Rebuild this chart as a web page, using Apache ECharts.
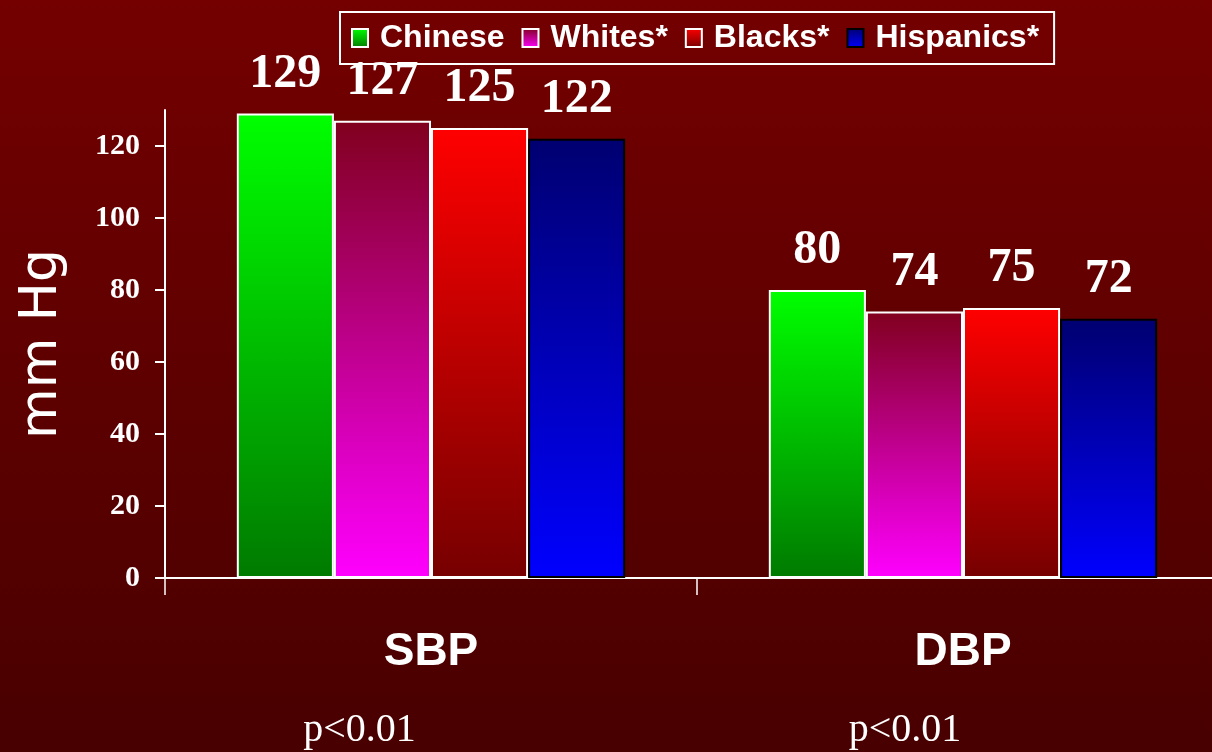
<!DOCTYPE html>
<html>
<head>
<meta charset="utf-8">
<script src="https://cdn.jsdelivr.net/npm/echarts@6/dist/echarts.min.js"></script>
<style>
html,body{margin:0;padding:0;background:#5e0000;}
#chart{width:1212px;height:752px;}
</style>
</head>
<body>
<div id="chart"></div>
<script>
const categories = ['SBP', 'DBP'];
const pValues = ['p<0.01', 'p<0.01'];
const seriesNames = ['Chinese', 'Whites*', 'Blacks*', 'Hispanics*'];
const chineseValues = [129, 80];
const whitesValues = [127, 74];
const blacksValues = [125, 75];
const hispanicsValues = [122, 72];
const yTicks = [0, 20, 40, 60, 80, 100, 120];

const grad = (top, bottom) => new echarts.graphic.LinearGradient(0, 0, 0, 1, [
  { offset: 0, color: top }, { offset: 1, color: bottom }
]);

const styles = [
  { color: grad('#00ff00', '#007a00'), borderColor: '#ffffff' },
  { color: grad('#80001e', '#ff00ff'), borderColor: '#ffffff' },
  { color: grad('#ff0000', '#760000'), borderColor: '#ffffff' },
  { color: grad('#000070', '#0000ff'), borderColor: '#000000' }
];
const values = [chineseValues, whitesValues, blacksValues, hispanicsValues];

const chart = echarts.init(document.getElementById('chart'));
chart.setOption({
  animation: false,
  backgroundColor: grad('#740000', '#480000'),
  legend: {
    data: seriesNames,
    left: 340,
    top: 12,
    orient: 'horizontal',
    borderColor: '#ffffff',
    borderWidth: 2,
    padding: [10, 15, 10, 11],
    itemWidth: 16,
    itemHeight: 18,
    itemGap: 17,
    icon: 'rect',
    textStyle: {
      color: '#ffffff',
      fontFamily: 'Liberation Sans, Arial, sans-serif',
      fontWeight: 'bold',
      fontSize: 32,
      padding: [0, 0, 0, 7]
    }
  },
  grid: { left: 165, width: 1064, top: 110, bottom: 174, containLabel: false, outerBoundsMode: 'none' },
  xAxis: [
    {
      type: 'category',
      data: categories,
      boundaryGap: true,
      axisLine: { lineStyle: { color: '#ffffff', width: 2 } },
      axisTick: { show: true, length: 17, inside: false, lineStyle: { color: '#ffffff', width: 1.5 } },
      axisLabel: {
        color: '#ffffff',
        fontFamily: 'Liberation Sans, Arial, sans-serif',
        fontWeight: 'bold',
        fontSize: 46,
        margin: 51
      }
    },
    {
      type: 'category',
      data: pValues,
      position: 'bottom',
      axisLine: { show: false },
      axisTick: { show: false },
      axisLabel: {
        margin: 132,
        formatter: (v, i) => (i === 0 ? '{a|' + v + '}' : '{b|' + v + '}'),
        rich: {
          a: { color: '#ffffff', fontFamily: 'Liberation Serif, Times New Roman, serif', fontSize: 40, padding: [0, 143, 0, 0] },
          b: { color: '#ffffff', fontFamily: 'Liberation Serif, Times New Roman, serif', fontSize: 40, padding: [0, 116, 0, 0] }
        }
      }
    }
  ],
  yAxis: {
    type: 'value',
    min: 0,
    max: 130,
    name: 'mm Hg',
    nameLocation: 'middle',
    nameGap: 97,
    nameTextStyle: {
      color: '#ffffff',
      fontFamily: 'DejaVu Sans, sans-serif',
      fontSize: 52
    },
    splitLine: { show: false },
    axisLine: { show: true, lineStyle: { color: '#ffffff', width: 2 } },
    axisTick: { show: true, length: 10, inside: false, customValues: yTicks, lineStyle: { color: '#ffffff', width: 2 } },
    axisLabel: {
      customValues: yTicks,
      color: '#ffffff',
      fontFamily: 'Liberation Serif, Times New Roman, serif',
      fontWeight: 'bold',
      fontSize: 30,
      margin: 25
    }
  },
  series: seriesNames.map((name, k) => ({
    name,
    type: 'bar',
    xAxisIndex: 0,
    data: values[k],
    barGap: '0%',
    barCategoryGap: '27%',
    itemStyle: { color: styles[k].color, borderColor: styles[k].borderColor, borderWidth: 2 },
    label: {
      show: true,
      position: 'top',
      distance: 15,
      color: '#ffffff',
      fontFamily: 'Liberation Serif, Times New Roman, serif',
      fontWeight: 'bold',
      fontSize: 48
    }
  }))
});
</script>
</body>
</html>
